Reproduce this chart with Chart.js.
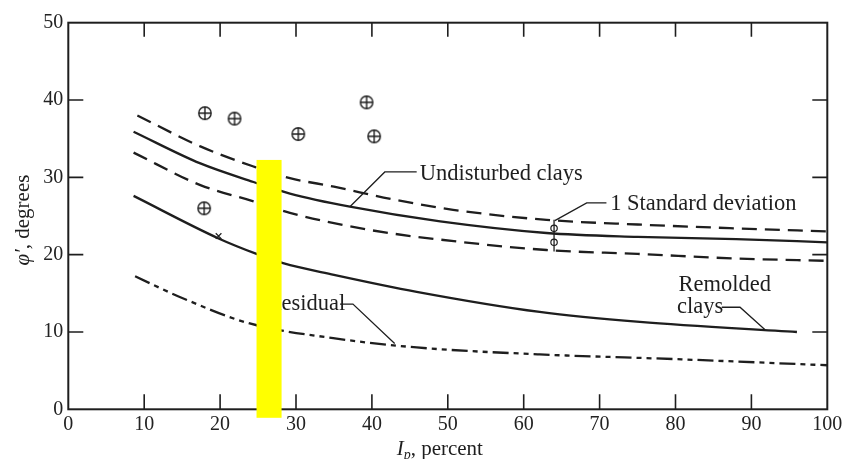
<!DOCTYPE html>
<html>
<head>
<meta charset="utf-8">
<title>phi' vs Ip</title>
<script src="https://cdn.jsdelivr.net/npm/chart.js@4.4.0/dist/chart.umd.min.js"></script>
<style>
  body { margin: 0; background: #fff; }
  canvas { display: block; }
</style>
</head>
<body>
<canvas id="myChart" width="842" height="459"></canvas>
<script>
/* datos */
var xTickValues = [10, 20, 30, 40, 50, 60, 70, 80, 90];
var yTickValues = [10, 20, 30, 40];

var upperSdX = [9.1, 17.4, 24.4, 29.2, 35, 42.5, 50.7, 63, 75, 88, 100];
var upperSdY = [38.0, 34.0, 31.4, 29.9, 28.8, 27.2, 25.8, 24.5, 23.9, 23.4, 23.0];
var undisturbedX = [8.6, 17.4, 24.4, 29.2, 37.1, 49.0, 63.0, 75, 88, 100];
var undisturbedY = [35.9, 31.8, 29.4, 27.9, 26.2, 24.3, 22.8, 22.3, 22.0, 21.6];
var lowerSdX = [8.6, 17.4, 24.4, 29.2, 39.7, 51.2, 63.0, 75, 88, 100];
var lowerSdY = [33.2, 29.0, 26.9, 25.4, 23.2, 21.7, 20.6, 20.1, 19.5, 19.2];
var remoldedX = [8.6, 19.8, 24.8, 28.3, 35, 45.9, 62.1, 75.3, 96.0];
var remoldedY = [27.6, 22.1, 20.1, 18.9, 17.4, 15.2, 12.6, 11.3, 10.0];
var residualX = [8.8, 15, 23.9, 34.9, 45.9, 62.1, 79.7, 100];
var residualY = [17.2, 14.4, 11.1, 9.2, 8.0, 7.1, 6.5, 5.7];

var testsX = [18.0, 21.9, 30.3, 39.3, 40.3, 17.9];
var testsY = [38.3, 37.6, 35.6, 39.7, 35.3, 26.0];

var sdBarX = [64, 64];
var sdBarY = [24.5, 20.4];
var sdMarkX = [64, 64];
var sdMarkY = [23.4, 21.6];
var starX = [19.8];
var starY = [22.4];

/* textos y lineas guia (en unidades del grafico) */
var notes = [
    { text: 'Undisturbed clays', x: 46.3, y: 29.66, guide: [[45.9, 30.7], [41.7, 30.7], [37.1, 26.2]] },
    { text: '1 Standard deviation', x: 71.4, y: 25.8, guide: [[70.9, 26.7], [68.3, 26.7], [64.1, 24.4]] },
    { text: 'Remolded', x: 80.4, y: 15.34, guide: null },
    { text: 'clays', x: 80.2, y: 12.42, guide: [[86.1, 13.2], [88.5, 13.2], [91.8, 10.3]] },
    { text: 'Residual', x: 26.1, y: 12.85, guide: [[35.8, 13.6], [37.5, 13.6], [43.0, 8.5]] }
];
var highlight = { x0: 24.8, x1: 28.1, y0: -1.1, y1: 32.25 };

var ink = '#1e1e1e';
var serif = "'Liberation Serif', 'Times New Roman', serif";

function pts(xs, ys) {
    return xs.map(function (x, i) { return { x: x, y: ys[i] }; });
}

/* marcador circulo con cruz */
var plusCircle = document.createElement('canvas');
plusCircle.width = 16;
plusCircle.height = 16;
var pc = plusCircle.getContext('2d');
pc.strokeStyle = ink;
pc.lineWidth = 1.4;
pc.beginPath();
pc.arc(8, 8, 6.2, 0, Math.PI * 2);
pc.moveTo(8, 1.8); pc.lineTo(8, 14.2);
pc.moveTo(1.8, 8); pc.lineTo(14.2, 8);
pc.stroke();

function curve(label, xs, ys, dash) {
    return {
        label: label,
        data: pts(xs, ys),
        showLine: true,
        borderColor: ink,
        borderWidth: 2.3,
        borderDash: dash,
        pointRadius: 0,
        cubicInterpolationMode: 'monotone',
        fill: false
    };
}

var extras = {
    id: 'extras',
    afterDatasetsDraw: function (chart) {
        var ctx = chart.ctx;
        var xs = chart.scales.x, ys = chart.scales.y, a = chart.chartArea;
        ctx.save();

        /* marco */
        ctx.strokeStyle = ink;
        ctx.lineWidth = 2;
        ctx.strokeRect(a.left, a.top, a.right - a.left, a.bottom - a.top);

        /* ticks hacia adentro */
        ctx.lineWidth = 1.6;
        ctx.beginPath();
        xTickValues.forEach(function (v) {
            var px = xs.getPixelForValue(v);
            ctx.moveTo(px, a.bottom); ctx.lineTo(px, a.bottom - 15);
            ctx.moveTo(px, a.top); ctx.lineTo(px, a.top + 14);
        });
        yTickValues.forEach(function (v) {
            var py = ys.getPixelForValue(v);
            ctx.moveTo(a.left, py); ctx.lineTo(a.left + 15, py);
            ctx.moveTo(a.right, py); ctx.lineTo(a.right - 15, py);
        });
        ctx.stroke();

        /* notas */
        ctx.lineWidth = 1.3;
        ctx.fillStyle = ink;
        ctx.font = '22.5px ' + serif;
        ctx.textBaseline = 'alphabetic';
        ctx.textAlign = 'left';
        notes.forEach(function (n) {
            ctx.fillText(n.text, xs.getPixelForValue(n.x), ys.getPixelForValue(n.y));
            if (n.guide) {
                ctx.beginPath();
                n.guide.forEach(function (p, i) {
                    var gx = xs.getPixelForValue(p[0]), gy = ys.getPixelForValue(p[1]);
                    if (i === 0) ctx.moveTo(gx, gy); else ctx.lineTo(gx, gy);
                });
                ctx.stroke();
            }
        });

        /* titulo eje x: I_p, percent */
        var cx = (a.left + a.right) / 2 - 8;
        var by = a.bottom + 45.7;
        ctx.font = 'italic 21px ' + serif;
        var wI = ctx.measureText('I').width;
        ctx.font = 'italic 14px ' + serif;
        var wp = ctx.measureText('p').width;
        ctx.font = '21px ' + serif;
        var wr = ctx.measureText(', percent').width;
        var sx = cx - (wI + wp + wr) / 2;
        ctx.font = 'italic 21px ' + serif;
        ctx.fillText('I', sx, by);
        ctx.font = 'italic 14px ' + serif;
        ctx.fillText('p', sx + wI, by + 4);
        ctx.font = '21px ' + serif;
        ctx.fillText(', percent', sx + wI + wp, by);

        /* titulo eje y */
        ctx.translate(28.5, (a.top + a.bottom) / 2 + 4);
        ctx.rotate(-Math.PI / 2);
        ctx.font = 'italic 21px ' + serif;
        var wf = ctx.measureText('\u03c6\u2032').width;
        ctx.font = '21px ' + serif;
        var wd = ctx.measureText(', degrees').width;
        ctx.font = 'italic 21px ' + serif;
        ctx.fillText('\u03c6\u2032', -(wf + wd) / 2, 0);
        ctx.font = '21px ' + serif;
        ctx.fillText(', degrees', -(wf + wd) / 2 + wf, 0);
        ctx.setTransform(1, 0, 0, 1, 0, 0);

        /* bloque amarillo */
        var hx0 = xs.getPixelForValue(highlight.x0), hx1 = xs.getPixelForValue(highlight.x1);
        var hy0 = ys.getPixelForValue(highlight.y0), hy1 = ys.getPixelForValue(highlight.y1);
        ctx.fillStyle = '#ffff00';
        ctx.fillRect(hx0, hy1, hx1 - hx0, hy0 - hy1);

        ctx.restore();
    }
};

/* grafica */
var ctx = document.getElementById('myChart').getContext('2d');
var myChart = new Chart(ctx, {
    type: 'scatter',
    data: {
        datasets: [
            curve('Undisturbed +1 SD', upperSdX, upperSdY, [15, 8]),
            curve('Undisturbed clays', undisturbedX, undisturbedY, []),
            curve('Undisturbed -1 SD', lowerSdX, lowerSdY, [15, 8]),
            curve('Remolded clays', remoldedX, remoldedY, []),
            curve('Residual', residualX, residualY, [16, 5, 5, 5, 5, 5]),
            {
                label: 'Tests',
                data: pts(testsX, testsY),
                pointStyle: plusCircle,
                pointRadius: 8
            },
            {
                label: 'SD bar',
                data: pts(sdBarX, sdBarY),
                showLine: true,
                borderColor: ink,
                borderWidth: 1.3,
                pointRadius: 0
            },
            {
                label: 'SD marks',
                data: pts(sdMarkX, sdMarkY),
                pointStyle: 'circle',
                pointRadius: 3.2,
                borderColor: ink,
                borderWidth: 1.2,
                backgroundColor: '#fff'
            },
            {
                label: 'star',
                data: pts(starX, starY),
                pointStyle: 'crossRot',
                pointRadius: 4,
                borderColor: ink,
                borderWidth: 1.2
            }
        ]
    },
    plugins: [extras],
    options: {
        responsive: false,
        animation: false,
        devicePixelRatio: 1,
        layout: { padding: { left: 0, top: 22.7, right: 14.7, bottom: 0 } },
        plugins: {
            legend: { display: false },
            tooltip: { enabled: false }
        },
        scales: {
            x: {
                type: 'linear',
                min: 0,
                max: 100,
                grid: { display: false, drawTicks: false },
                border: { display: false },
                ticks: {
                    stepSize: 10,
                    padding: 3,
                    color: '#222',
                    font: { family: serif, size: 20 }
                },
                afterFit: function (scale) {
                    scale.height = 49.7;
                    scale.paddingLeft = 0;
                    scale.paddingRight = 0;
                }
            },
            y: {
                type: 'linear',
                min: 0,
                max: 50,
                grid: { display: false, drawTicks: false },
                border: { display: false },
                ticks: {
                    stepSize: 10,
                    padding: 5,
                    color: '#222',
                    font: { family: serif, size: 20 }
                },
                afterFit: function (scale) {
                    scale.width = 68.3;
                    scale.paddingTop = 0;
                    scale.paddingBottom = 0;
                }
            }
        }
    }
});
</script>
</body>
</html>
